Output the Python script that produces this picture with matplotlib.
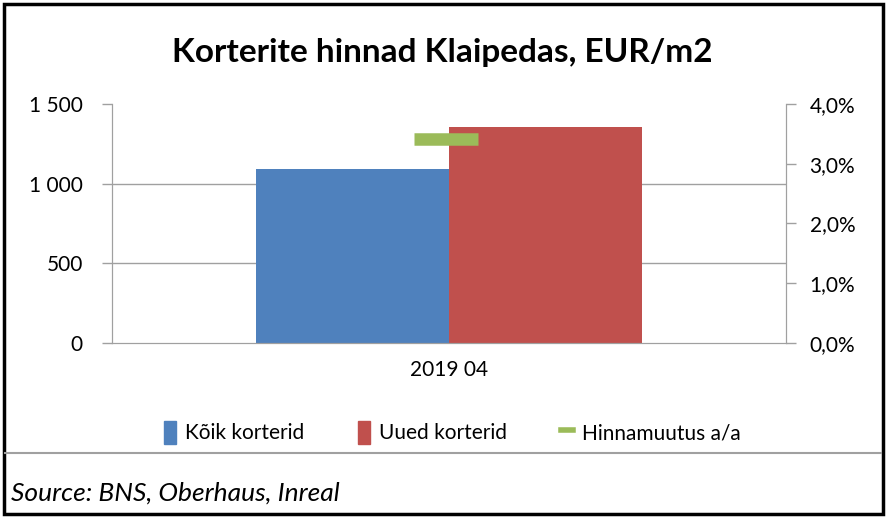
import matplotlib.pyplot as plt
from matplotlib.patches import Rectangle, Patch
from matplotlib.lines import Line2D
from matplotlib.ticker import FuncFormatter

plt.rcParams['font.family'] = ['Lato', 'DejaVu Sans']

# data
categories = ['2019 04']
koik = [1092]
uued = [1356]
muutus = [3.41]
series_names = ['Kõik korterid', 'Uued korterid', 'Hinnamuutus a/a']

blue = '#4f81bd'
red = '#c0504d'
green = '#9bbb59'
gray = '#a0a0a0'

fig = plt.figure(figsize=(8.9, 5.22), dpi=100)
ax = fig.add_axes([0.1258, 0.3429, 0.7573, 0.4579])
ax2 = ax.twinx()

x = list(range(len(categories)))
w = 0.2857
ax.bar([i - w / 2 for i in x], koik, width=w, color=blue, zorder=2)
ax.bar([i + w / 2 for i in x], uued, width=w, color=red, zorder=2)
ax2.plot([i - 0.005 for i in x], muutus, linestyle='none', marker='_', markersize=46,
         markeredgewidth=9, color=green)

ax.set_xlim(-0.5, 0.5)
ax.set_ylim(0, 1500)
ax.set_yticks([0, 500, 1000, 1500])
ax.yaxis.set_major_formatter(FuncFormatter(lambda v, p: f'{int(v):,}'.replace(',', ' ')))
ax2.set_ylim(0, 4)
ax2.set_yticks([0, 1, 2, 3, 4])
ax2.yaxis.set_major_formatter(FuncFormatter(lambda v, p: f'{v:.1f}%'.replace('.', ',')))

ax.set_xticks(x)
ax.set_xticklabels(categories)
for a in (ax, ax2):
    for s in a.spines.values():
        s.set_color(gray)
    a.spines['top'].set_visible(False)
    a.tick_params(axis='both', colors=gray, labelcolor='black', labelsize=15, length=7, width=1)
ax.tick_params(axis='x', length=0, pad=12)
ax2.tick_params(axis='y', pad=10)
ax.tick_params(axis='y', pad=14)

for v in [500, 1000]:
    ax.axhline(v, color=gray, linewidth=1, zorder=1)

fig.text(0.497, 0.90, 'Korterite hinnad Klaipedas, EUR/m2', ha='center', va='center',
         fontsize=24, fontweight='bold')

handles = [Patch(color=blue), Patch(color=red),
           Line2D([], [], color=green, linewidth=4)]
fig.legend(handles, series_names, loc='center', bbox_to_anchor=(0.508, 0.172), ncol=3,
           frameon=False, fontsize=15, handlelength=0.6, handleheight=1.3,
           columnspacing=2.6, handletextpad=0.4)

# borders and source line
fig.patches.append(Rectangle((0.004, 0.015), 0.988, 0.978, transform=fig.transFigure,
                             fill=False, edgecolor='black', linewidth=2.5))
fig.add_artist(Line2D([0.006, 0.99], [1 - 453 / 522, 1 - 453 / 522], color=gray, linewidth=1.5))
fig.text(0.012, 1 - 493 / 522, 'Source: BNS, Oberhaus, Inreal', ha='left', va='center',
         fontsize=19, fontstyle='italic')

fig.savefig('out.png', dpi=100)
